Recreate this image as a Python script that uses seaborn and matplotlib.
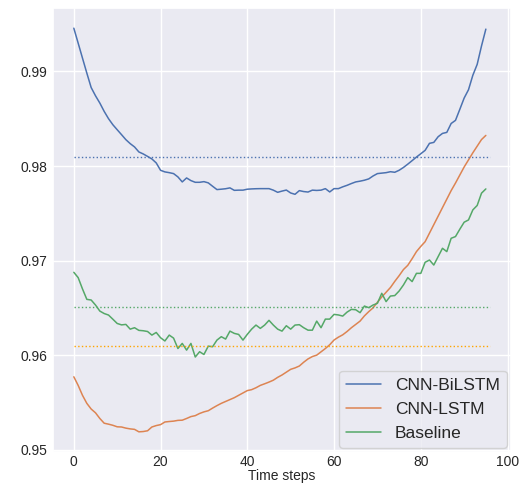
import matplotlib
matplotlib.use("Agg")
import matplotlib.pyplot as plt
import numpy as np
import pandas as pd
import seaborn as sns

sns.set_theme(style="darkgrid")
plt.rcParams["font.family"] = ["Liberation Sans", "DejaVu Sans"]

steps = list(range(96))

cnn_bilstm = [
    0.99458, 0.99300, 0.99141, 0.98983, 0.98830, 0.98743, 0.98666, 0.98578, 0.98501, 0.98437,
    0.98384, 0.98332, 0.98279, 0.98237, 0.98202, 0.98149, 0.98128, 0.98102, 0.98075, 0.98033,
    0.97955, 0.97938, 0.97930, 0.97920, 0.97885, 0.97832, 0.97874, 0.97846, 0.97828, 0.97828,
    0.97835, 0.97822, 0.97786, 0.97751, 0.97755, 0.97760, 0.97769, 0.97743, 0.97745, 0.97745,
    0.97755, 0.97758, 0.97760, 0.97761, 0.97761, 0.97761, 0.97745, 0.97722, 0.97735, 0.97746,
    0.97715, 0.97701, 0.97740, 0.97730, 0.97725, 0.97745, 0.97742, 0.97745, 0.97761, 0.97726,
    0.97761, 0.97761, 0.97780, 0.97796, 0.97815, 0.97832, 0.97840, 0.97850, 0.97864, 0.97895,
    0.97920, 0.97925, 0.97930, 0.97940, 0.97934, 0.97955, 0.97985, 0.98020, 0.98057, 0.98095,
    0.98130, 0.98166, 0.98240, 0.98250, 0.98310, 0.98345, 0.98356, 0.98450, 0.98483, 0.98600,
    0.98719, 0.98807, 0.98960, 0.99075, 0.99270, 0.99448,
]

cnn_lstm = [
    0.95771, 0.95680, 0.95575, 0.95490, 0.95430, 0.95390, 0.95330, 0.95280, 0.95270, 0.95258,
    0.95242, 0.95240, 0.95228, 0.95220, 0.95215, 0.95189, 0.95192, 0.95200, 0.95240, 0.95255,
    0.95265, 0.95293, 0.95298, 0.95302, 0.95310, 0.95312, 0.95330, 0.95350, 0.95360, 0.95383,
    0.95400, 0.95412, 0.95440, 0.95466, 0.95490, 0.95510, 0.95530, 0.95550, 0.95575, 0.95600,
    0.95625, 0.95635, 0.95655, 0.95680, 0.95697, 0.95715, 0.95735, 0.95765, 0.95790, 0.95820,
    0.95850, 0.95865, 0.95885, 0.95925, 0.95960, 0.95985, 0.96000, 0.96035, 0.96070, 0.96110,
    0.96160, 0.96190, 0.96215, 0.96250, 0.96290, 0.96325, 0.96360, 0.96415, 0.96460, 0.96500,
    0.96560, 0.96615, 0.96665, 0.96715, 0.96780, 0.96840, 0.96905, 0.96950, 0.97020, 0.97095,
    0.97150, 0.97200, 0.97290, 0.97380, 0.97470, 0.97560, 0.97650, 0.97740, 0.97820, 0.97905,
    0.97990, 0.98065, 0.98140, 0.98210, 0.98280, 0.98324,
]

baseline = [
    0.96876, 0.96820, 0.96700, 0.96590, 0.96583, 0.96530, 0.96466, 0.96440, 0.96424, 0.96380,
    0.96335, 0.96320, 0.96325, 0.96275, 0.96290, 0.96262, 0.96258, 0.96250, 0.96212, 0.96240,
    0.96184, 0.96150, 0.96212, 0.96180, 0.96070, 0.96124, 0.96053, 0.96124, 0.95980, 0.96036,
    0.96007, 0.96095, 0.96089, 0.96159, 0.96195, 0.96170, 0.96254, 0.96230, 0.96219, 0.96159,
    0.96220, 0.96275, 0.96318, 0.96283, 0.96318, 0.96368, 0.96318, 0.96275, 0.96254, 0.96311,
    0.96275, 0.96318, 0.96322, 0.96290, 0.96264, 0.96264, 0.96360, 0.96290, 0.96381, 0.96381,
    0.96431, 0.96425, 0.96413, 0.96455, 0.96484, 0.96480, 0.96449, 0.96519, 0.96502, 0.96530,
    0.96548, 0.96654, 0.96566, 0.96625, 0.96630, 0.96678, 0.96742, 0.96820, 0.96778, 0.96865,
    0.96865, 0.96982, 0.97006, 0.96953, 0.97042, 0.97130, 0.97095, 0.97236, 0.97254, 0.97332,
    0.97406, 0.97430, 0.97536, 0.97583, 0.97713, 0.97758,
]

models = ["CNN-BiLSTM", "CNN-LSTM", "Baseline"]
level_values = [0.981, 0.961, 0.9651]
level_end = 96
yticks = [0.95, 0.96, 0.97, 0.98, 0.99]
xticks = [0, 20, 40, 60, 80, 100]

pal = sns.color_palette("deep")
line_colors = [pal[0], pal[1], pal[2]]
level_colors = [pal[0], "orange", pal[2]]

df = pd.DataFrame({
    "step": steps * 3,
    "value": cnn_bilstm + cnn_lstm + baseline,
    "model": [m for m in models for _ in steps],
})

fig = plt.figure(figsize=(5.19, 4.84), dpi=100)
ax = fig.add_axes([53 / 519, 1 - 452 / 484, (511 - 53) / 519, (452 - 8) / 484])

sns.lineplot(data=df, x="step", y="value", hue="model", hue_order=models,
             palette=line_colors, linewidth=1.1, ax=ax)

for v, c in zip(level_values, level_colors):
    ax.hlines(v, 0, level_end, colors=[c], linestyles=":", linewidth=1.0)

ax.set_yticks(yticks)
ax.set_yticklabels([f"{t:.2f}" for t in yticks])
ax.set_xticks(xticks)
ax.tick_params(labelsize=10, length=0)
ax.tick_params(axis="x", pad=2)
ax.tick_params(axis="y", pad=4)
ax.set_xlabel("Time steps", fontsize=10, labelpad=0)
ax.set_ylabel("")

handles, labels = ax.get_legend_handles_labels()
ax.legend(handles[:3], labels[:3], loc="lower right", fontsize=12.5,
          borderaxespad=0.25)

fig.savefig("out.png", dpi=100)
